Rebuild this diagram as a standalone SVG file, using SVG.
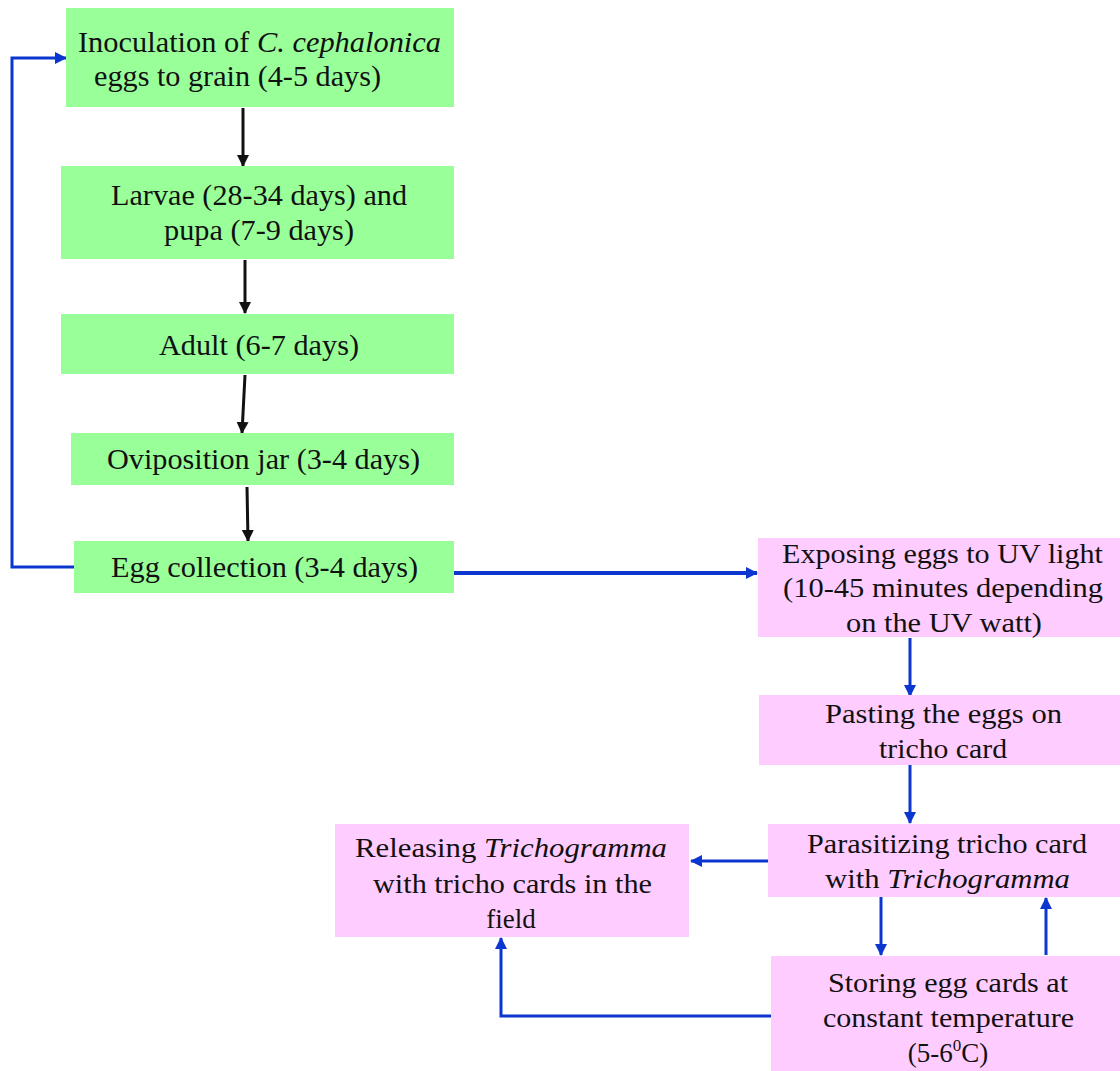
<svg xmlns="http://www.w3.org/2000/svg" width="1120" height="1071" viewBox="0 0 1120 1071">
<defs>
<style>
.g{fill:#99FF99}
.p{fill:#FFCCFF}
.t{font-family:'Liberation Serif','Times New Roman','DejaVu Serif',serif;fill:#111;text-anchor:middle}
.tg{font-size:29px}
.tp{font-size:27px}
.i{font-style:italic}
.bk{stroke:#111;stroke-width:3;fill:none}
.bl{stroke:#0B36CF;stroke-width:3;fill:none}
</style>
<marker id="ak" markerUnits="userSpaceOnUse" markerWidth="14" markerHeight="14" refX="11" refY="6" orient="auto"><path d="M0,0 L12,6 L0,12 z" fill="#111"/></marker>
<marker id="ab" markerUnits="userSpaceOnUse" markerWidth="14" markerHeight="14" refX="11" refY="6" orient="auto"><path d="M0,0 L12,6 L0,12 z" fill="#0B36CF"/></marker>
</defs>
<rect width="1120" height="1071" fill="#fff"/>

<g id="connectors">
<path class="bk" d="M243,108 V166" marker-end="url(#ak)"/>
<path class="bk" d="M245,260 V313" marker-end="url(#ak)"/>
<path class="bk" d="M245,375 L242,433" marker-end="url(#ak)"/>
<path class="bk" d="M247,487 L248,541" marker-end="url(#ak)"/>
<path class="bl" d="M74,567 H12 V58 H66" marker-end="url(#ab)"/>
<path class="bl" style="stroke-width:4" d="M454,573 H757" marker-end="url(#ab)"/>
<path class="bl" d="M910,638 V696" marker-end="url(#ab)"/>
<path class="bl" d="M910,765 V823" marker-end="url(#ab)"/>
<path class="bl" d="M768,861 H691" marker-end="url(#ab)"/>
<path class="bl" d="M881,897 V955" marker-end="url(#ab)"/>
<path class="bl" d="M1046,955 V898" marker-end="url(#ab)"/>
<path class="bl" d="M771,1016 H501 V938" marker-end="url(#ab)"/>
</g>

<g id="n1">
<rect class="g" x="66" y="8" width="388" height="99"/>
<text class="t tg" x="259.5" y="52" textLength="363" lengthAdjust="spacingAndGlyphs">Inoculation of <tspan class="i">C. cephalonica</tspan></text>
<text class="t tg" x="237.5" y="86" textLength="287" lengthAdjust="spacingAndGlyphs">eggs to grain (4-5  days)</text>
</g>
<g id="n2">
<rect class="g" x="61" y="166" width="393" height="93"/>
<text class="t tg" x="259" y="205" textLength="296" lengthAdjust="spacingAndGlyphs">Larvae (28-34  days) and</text>
<text class="t tg" x="259" y="240" textLength="190" lengthAdjust="spacingAndGlyphs">pupa (7-9  days)</text>
</g>
<g id="n3">
<rect class="g" x="61" y="314" width="393" height="60"/>
<text class="t tg" x="259" y="355" textLength="200" lengthAdjust="spacingAndGlyphs">Adult (6-7  days)</text>
</g>
<g id="n4">
<rect class="g" x="71" y="433" width="383" height="52"/>
<text class="t tg" x="263.5" y="469" textLength="313" lengthAdjust="spacingAndGlyphs">Oviposition jar (3-4  days)</text>
</g>
<g id="n5">
<rect class="g" x="74" y="541" width="380" height="52"/>
<text class="t tg" x="264.5" y="577" textLength="307" lengthAdjust="spacingAndGlyphs">Egg collection (3-4  days)</text>
</g>

<g id="n6">
<rect class="p" x="758" y="538" width="362" height="99"/>
<text class="t tp" x="942.5" y="563" textLength="321" lengthAdjust="spacingAndGlyphs">Exposing eggs to UV light</text>
<text class="t tp" x="943" y="597" textLength="320" lengthAdjust="spacingAndGlyphs">(10-45  minutes depending</text>
<text class="t tp" x="944" y="632" textLength="196" lengthAdjust="spacingAndGlyphs">on the UV watt)</text>
</g>
<g id="n7">
<rect class="p" x="759" y="695" width="361" height="70"/>
<text class="t tp" x="943.5" y="723" textLength="237" lengthAdjust="spacingAndGlyphs">Pasting the eggs on</text>
<text class="t tp" x="943" y="758" textLength="128" lengthAdjust="spacingAndGlyphs">tricho card</text>
</g>
<g id="n8">
<rect class="p" x="768" y="824" width="352" height="73"/>
<text class="t tp" x="947" y="853" textLength="280" lengthAdjust="spacingAndGlyphs">Parasitizing  tricho card</text>
<text class="t tp" x="947.5" y="888" textLength="245" lengthAdjust="spacingAndGlyphs">with <tspan class="i">Trichogramma</tspan></text>
</g>
<g id="n9">
<rect class="p" x="771" y="956" width="349" height="115"/>
<text class="t tp" x="948" y="992" textLength="240" lengthAdjust="spacingAndGlyphs">Storing egg cards at</text>
<text class="t tp" x="948.5" y="1027" textLength="251" lengthAdjust="spacingAndGlyphs">constant temperature</text>
<text class="t tp" x="948" y="1062">(5-6<tspan font-size="17" dy="-11">0</tspan><tspan dy="11">C)</tspan></text>
</g>
<g id="n10">
<rect class="p" x="335" y="824" width="354" height="113"/>
<text class="t tp" x="511" y="857" textLength="312" lengthAdjust="spacingAndGlyphs">Releasing <tspan class="i">Trichogramma</tspan></text>
<text class="t tp" x="512.5" y="893" textLength="279" lengthAdjust="spacingAndGlyphs">with tricho cards in the</text>
<text class="t tp" x="511" y="928">field</text>
</g>
</svg>
